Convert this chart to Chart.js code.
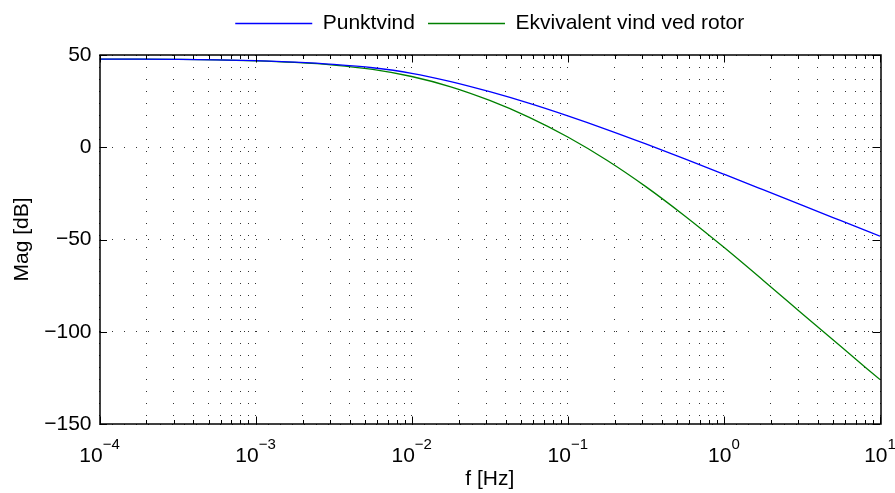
<!DOCTYPE html>
<html>
<head>
<meta charset="utf-8">
<script src="https://cdn.jsdelivr.net/npm/chart.js@4.4.1/dist/chart.umd.min.js"></script>
<style>
  html, body { margin: 0; padding: 0; background: #fff; }
  #wrap { width: 895px; height: 493px; }
</style>
</head>
<body>
<div id="wrap"><canvas id="bode"></canvas></div>
<script>
// Frequency response magnitude (quarter-decade points).
const freqHz = [1e-4, 1.78e-4, 3.16e-4, 5.62e-4, 1e-3, 1.78e-3, 3.16e-3, 5.62e-3, 1e-2, 1.78e-2, 3.16e-2,
  5.62e-2, 0.1, 0.178, 0.316, 0.562, 1, 1.78, 3.16, 5.62, 10];
const punktvindDb = [47.8, 47.75, 47.6, 47.35, 46.9, 46.1, 44.9, 43.1, 40.1, 35.6, 30.1,
  23.9, 17.0, 9.6, 1.8, -6.3, -14.6, -23.0, -31.4, -39.8, -48.2];
const ekvivalentDb = [47.8, 47.75, 47.6, 47.35, 46.85, 45.95, 44.55, 42.2, 38.35, 32.75, 25.35,
  16.35, 5.55, -7.05, -21.35, -37.25, -54.25, -72.05, -90.05, -108.05, -125.95];

const seriesLabels = ['Punktvind', 'Ekvivalent vind ved rotor'];
const seriesColors = ['#0000ff', '#008000'];

// Axes
const xDecades = [1e-4, 1e-3, 1e-2, 1e-1, 1, 10];
const xExponents = ['\u22124', '\u22123', '\u22122', '\u22121', '0', '1'];
const yTicks = [-150, -100, -50, 0, 50];

const FONT = '"Liberation Sans", Arial, Helvetica, sans-serif';

// every 1..9 x 10^n between the first and last decade (log grid)
const xGridValues = [];
xDecades.forEach((d, i) => {
  if (i === xDecades.length - 1) { xGridValues.push(d); return; }
  for (let m = 1; m <= 9; m++) xGridValues.push(+(d * m).toPrecision(3));
});

// Legend box is given a fixed height so the plot area starts where it does in the reference.
const legendHeight = {
  id: 'legendHeight',
  beforeLayout(chart) {
    const lg = chart.legend;
    if (lg && !lg._fixedFit) {
      const fit = lg.fit;
      lg.fit = function () { fit.call(this); this.height = 55; };
      lg._fixedFit = true;
    }
  },
};

// MATLAB-ish frame: box, inward ticks, and 10^n tick labels.
const matlabFrame = {
  id: 'matlabFrame',
  afterDraw(chart) {
    const { ctx, chartArea: a, scales: { x, y } } = chart;
    ctx.save();
    ctx.strokeStyle = '#000';
    ctx.lineWidth = 1;
    ctx.beginPath();
    xGridValues.forEach((v) => {
      const px = Math.round(x.getPixelForValue(v)) + 0.5;
      const len = xDecades.includes(v) ? 7.5 : 4;
      ctx.moveTo(px, a.bottom); ctx.lineTo(px, a.bottom - len);
      ctx.moveTo(px, a.top); ctx.lineTo(px, a.top + len);
    });
    yTicks.forEach((v) => {
      const py = Math.round(y.getPixelForValue(v)) + 0.5;
      ctx.moveTo(a.left, py); ctx.lineTo(a.left + 7.5, py);
      ctx.moveTo(a.right, py); ctx.lineTo(a.right - 7.5, py);
    });
    ctx.stroke();

    ctx.lineWidth = 1.5;
    ctx.strokeRect(Math.round(a.left), Math.round(a.top), Math.round(a.right - a.left), Math.round(a.bottom - a.top));

    ctx.fillStyle = '#000';
    ctx.textBaseline = 'alphabetic';
    xDecades.forEach((v, i) => {
      const px = x.getPixelForValue(v);
      ctx.font = `21px ${FONT}`;
      const wBase = ctx.measureText('10').width;
      ctx.font = `15px ${FONT}`;
      const wExp = ctx.measureText(xExponents[i]).width;
      const left = px - (wBase + wExp) / 2;
      ctx.font = `21px ${FONT}`;
      ctx.fillText('10', left, a.bottom + 38);
      ctx.font = `15px ${FONT}`;
      ctx.fillText(xExponents[i], left + wBase, a.bottom + 25);
    });
    ctx.restore();
  },
};

const datasets = [punktvindDb, ekvivalentDb].map((vals, i) => ({
  label: seriesLabels[i],
  data: vals.map((v, k) => ({ x: freqHz[k], y: v })),
  borderColor: seriesColors[i],
  backgroundColor: seriesColors[i],
  borderWidth: 1.3,
  pointRadius: 0,
  fill: false,
  cubicInterpolationMode: 'monotone',
}));

const gridStyle = { color: 'rgba(0,0,0,0.8)', lineWidth: 1, drawTicks: false };
const dotted = { display: false, dash: [1, 11] };

new Chart(document.getElementById('bode'), {
  type: 'line',
  data: { datasets },
  plugins: [legendHeight, matlabFrame],
  options: {
    responsive: true,
    maintainAspectRatio: false,
    animation: false,
    layout: { padding: { left: 0, right: 15, top: 0, bottom: 0 } },
    plugins: {
      legend: {
        display: true,
        position: 'top',
        fullSize: false,
        labels: {
          boxWidth: 77, boxHeight: 0, padding: 13,
          color: '#000', font: { family: FONT, size: 21 },
        },
      },
      tooltip: { enabled: false },
    },
    scales: {
      x: {
        type: 'logarithmic',
        min: 1e-4, max: 10,
        afterBuildTicks: (s) => { s.ticks = xGridValues.map((v) => ({ value: v })); },
        afterFit: (s) => { s.height = 69; },
        ticks: { display: false },
        grid: gridStyle,
        border: dotted,
        title: { display: true, text: 'f [Hz]', color: '#000', font: { family: FONT, size: 21 }, padding: { top: 0, bottom: 1 } },
      },
      y: {
        type: 'linear',
        min: -150, max: 50,
        afterBuildTicks: (s) => { s.ticks = yTicks.map((v) => ({ value: v })); },
        afterFit: (s) => { s.width = 99.5; },
        ticks: {
          padding: 8, color: '#000', font: { family: FONT, size: 21 },
          callback: (v) => String(v).replace('-', '\u2212'),
        },
        grid: gridStyle,
        border: dotted,
        title: { display: true, text: 'Mag [dB]', color: '#000', font: { family: FONT, size: 21 }, padding: { top: 10, bottom: 0 } },
      },
    },
  },
});
</script>
</body>
</html>
